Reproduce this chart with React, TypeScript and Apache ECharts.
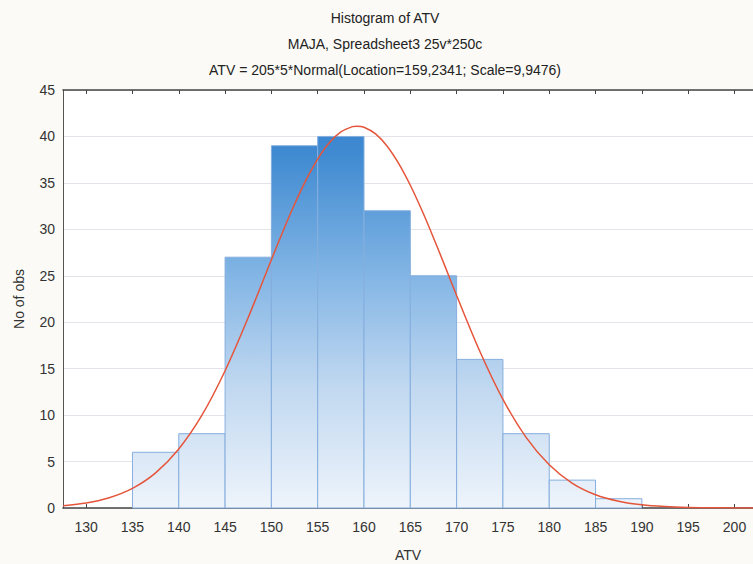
import React, { useEffect, useRef } from "react";
import * as echarts from "echarts";

const binStarts = [135, 140, 145, 150, 155, 160, 165, 170, 175, 180, 185];
const binWidth = 5;
const counts = [6, 8, 27, 39, 40, 32, 25, 16, 8, 3, 1];
const xTicks = [130, 135, 140, 145, 150, 155, 160, 165, 170, 175, 180, 185, 190, 195, 200];
const curveX = [127.5, 130, 132.5, 135, 137.5, 140, 142.5, 145, 147.5, 150, 151.25, 152.5, 153.75, 155, 156.25, 157.5, 158.75, 159.25, 160, 161.25, 162.5, 163.75, 165, 166.25, 167.5, 168.75, 170, 172.5, 175, 177.5, 180, 182.5, 185, 187.5, 190, 192.5, 195, 197.5, 200, 202];
const curveY = [0.25, 0.55, 1.11, 2.11, 3.78, 6.35, 9.99, 14.78, 20.51, 26.73, 29.8, 32.7, 35.32, 37.56, 39.31, 40.49, 41.06, 41.11, 40.99, 40.27, 38.95, 37.08, 34.75, 32.05, 29.1, 26.01, 22.88, 16.88, 11.7, 7.61, 4.65, 2.66, 1.43, 0.73, 0.34, 0.15, 0.06, 0.03, 0.01, 0.004];
const titles = [
  "Histogram of ATV",
  "MAJA, Spreadsheet3 25v*250c",
  "ATV = 205*5*Normal(Location=159,2341; Scale=9,9476)",
];

export default function App() {
  const ref = useRef<HTMLDivElement>(null);
  useEffect(() => {
    if (!ref.current) return;
    const chart = echarts.init(ref.current, null, { renderer: "svg" });
    const font = "Liberation Sans, Arial, sans-serif";
    const gradient = new echarts.graphic.LinearGradient(
      0, 90, 0, 508,
      [
        { offset: 0, color: "#3580cb" },
        { offset: 0.15, color: "#3f8ad1" },
        { offset: 0.45, color: "#84b6e5" },
        { offset: 0.7, color: "#bfd7f0" },
        { offset: 1, color: "#eef4fb" },
      ],
      true
    );
    const barData = binStarts.map((s, i) => [s, s + binWidth, counts[i]]);
    const lineData = curveX.map((x, i) => [x, curveY[i]]);
    chart.setOption({
      animation: false,
      backgroundColor: "#fbfaf6",
      textStyle: { fontFamily: font },
      graphic: titles.map((t, i) => ({
        type: "text",
        x: 385,
        y: 18 + i * 26,
        style: {
          text: t,
          textAlign: "center",
          textVerticalAlign: "middle",
          fontSize: 14,
          fontFamily: font,
          fill: "#222",
        },
      })),
      grid: {
        left: 63,
        right: 0,
        top: 90,
        bottom: 56,
        containLabel: false,
        outerBoundsMode: "none",
        show: true,
        backgroundColor: "#ffffff",
        borderWidth: 0,
      },
      xAxis: [
        {
          type: "value",
          min: 127.5,
          max: 202,
          name: "ATV",
          nameLocation: "middle",
          nameGap: 40,
          nameTextStyle: { fontSize: 14, color: "#333", fontFamily: font },
          axisLine: { show: true, lineStyle: { color: "#444", width: 1.5 } },
          axisTick: {
            show: true,
            inside: true,
            length: 4,
            customValues: xTicks,
            lineStyle: { color: "#444" },
          },
          axisLabel: {
            customValues: xTicks,
            fontSize: 14,
            color: "#333",
            margin: 12,
            fontFamily: font,
          },
          splitLine: { show: false },
        },
        {
          type: "value",
          position: "top",
          min: 127.5,
          max: 202,
          axisLine: { show: true, onZero: false, lineStyle: { color: "#444", width: 1.5 } },
          axisTick: {
            show: true,
            inside: true,
            length: 4,
            customValues: xTicks,
            lineStyle: { color: "#444" },
          },
          axisLabel: { show: false },
          splitLine: { show: false },
        },
      ],
      yAxis: {
        type: "value",
        min: 0,
        max: 45,
        interval: 5,
        name: "No of obs",
        nameLocation: "middle",
        nameGap: 37,
        nameTextStyle: { fontSize: 14, color: "#333", fontFamily: font },
        axisLine: { show: true, lineStyle: { color: "#555", width: 1 } },
        axisTick: { show: false },
        axisLabel: { fontSize: 14, color: "#333", margin: 8, fontFamily: font },
        splitLine: { show: true, lineStyle: { color: "#e3e4ea", width: 1 } },
      },
      series: [
        {
          type: "custom",
          xAxisIndex: 0,
          data: barData,
          encode: { x: [0, 1], y: 2 },
          renderItem: (params: any, api: any) => {
            const x0 = api.value(0);
            const x1 = api.value(1);
            const v = api.value(2);
            const p0 = api.coord([x0, v]);
            const p1 = api.coord([x1, 0]);
            return {
              type: "rect",
              shape: { x: p0[0], y: p0[1], width: p1[0] - p0[0], height: p1[1] - p0[1] },
              style: { fill: gradient, stroke: "#85aede", lineWidth: 1 },
            };
          },
          z: 2,
        },
        {
          type: "line",
          xAxisIndex: 0,
          data: lineData,
          smooth: 0.3,
          showSymbol: false,
          lineStyle: { color: "#e5553b", width: 1.5 },
          z: 3,
        },
      ],
    });
    return () => chart.dispose();
  }, []);
  return (
    <div
      ref={ref}
      style={{ position: "fixed", left: 0, top: 0, width: 753, height: 564 }}
    />
  );
}
